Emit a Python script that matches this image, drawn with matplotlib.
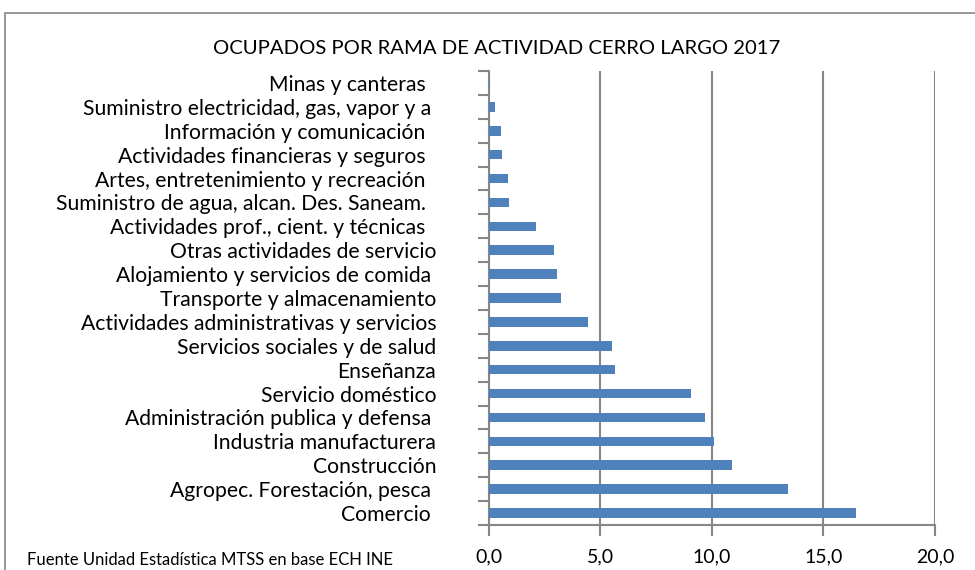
import numpy as np
import matplotlib
matplotlib.use("Agg")
from matplotlib import pyplot as plt
from matplotlib.patches import Rectangle

# categorias (de abajo hacia arriba)
categorias = [
    "Comercio ",
    "Agropec. Forestación, pesca ",
    "Construcción",
    "Industria manufacturera",
    "Administración publica y defensa ",
    "Servicio doméstico",
    "Enseñanza",
    "Servicios sociales y de salud",
    "Actividades administrativas y servicios",
    "Transporte y almacenamiento",
    "Alojamiento y servicios de comida ",
    "Otras actividades de servicio",
    "Actividades prof., cient. y técnicas  ",
    "Suministro de agua, alcan. Des. Saneam.  ",
    "Artes, entretenimiento y recreación  ",
    "Actividades financieras y seguros  ",
    "Información y comunicación  ",
    "Suministro electricidad, gas, vapor y a ",
    "Minas y canteras  ",
]
valores = [16.46, 13.4, 10.9, 10.1, 9.7, 9.05, 5.67, 5.51, 4.45, 3.23,
           3.04, 2.9, 2.1, 0.88, 0.84, 0.58, 0.55, 0.28, 0.06]
x_ticks = [0, 5, 10, 15, 20]
x_labels = ["0,0", "5,0", "10,0", "15,0", "20,0"]

plt.rcParams['font.family'] = ['Lato', 'DejaVu Sans']

fig = plt.figure(figsize=(9.75, 5.7), dpi=100)
ax = fig.add_axes([489 / 975, 1 - 525 / 570, 446 / 975, 454 / 570])

gris = "#868686"
pos = np.arange(len(categorias))
ax.barh(pos, valores, height=0.4, color="#4F81BD", zorder=3)

ax.set_xlim(0, 20)
ax.set_ylim(-0.5, len(categorias) - 0.5)
ax.set_xticks(x_ticks)
ax.set_xticklabels(x_labels, fontsize=14)
ax.set_yticks(pos)
ax.set_yticklabels(categorias, fontsize=15.2)
ax.set_yticks(np.arange(-0.5, len(categorias)), minor=True)
ax.tick_params(axis="y", which="major", length=0, pad=38)
ax.tick_params(axis="y", which="minor", length=8, width=1.5, color=gris)
ax.tick_params(axis="x", length=8, width=1.5, color=gris, pad=9)

ax.grid(axis="x", color=gris, linewidth=1.5, zorder=0)
for s in ["top", "right"]:
    ax.spines[s].set_visible(False)
for s in ["left", "bottom"]:
    ax.spines[s].set_color(gris)
    ax.spines[s].set_linewidth(1.5)

fig.text(0.509, 1 - 48 / 570, "OCUPADOS POR RAMA DE ACTIVIDAD CERRO LARGO 2017",
         ha="center", va="center", fontsize=14.6)
fig.text(27 / 975, 1 - 560 / 570, "Fuente Unidad Estadística MTSS en base ECH INE",
         ha="left", va="center", fontsize=12)

# marco exterior
fig.patches.append(Rectangle((5 / 975, -0.1), 1.2, 1.1 - 13 / 570,
                             transform=fig.transFigure, fill=False,
                             edgecolor="#888888", linewidth=1.2))

fig.savefig("out.png", dpi=100)
